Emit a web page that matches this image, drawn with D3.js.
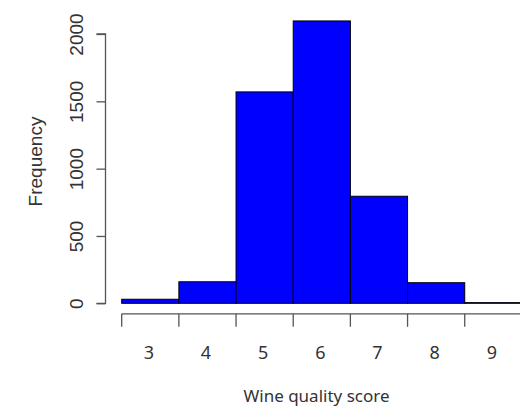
<!DOCTYPE html>
<html>
<head>
<meta charset="utf-8">
<script src="https://cdn.jsdelivr.net/npm/d3@7"></script>
<style>
  html, body { margin: 0; padding: 0; background: #fff; }
  svg { display: block; }
</style>
</head>
<body>
<svg id="chart" width="520" height="408"></svg>
<script>
// Data
const categories = [3, 4, 5, 6, 7, 8, 9];
const frequencies = [30, 160, 1570, 2097, 795, 153, 5];
const yTicks = [0, 500, 1000, 1500, 2000];
const xLabel = "Wine quality score";
const yLabel = "Frequency";

const svg = d3.select("#chart");

const x = d3.scaleLinear().domain([2.5, 9.5]).range([121.7, 521.9]);
const y = d3.scaleLinear().domain([0, 2000]).range([303.3, 34]);

const axisColor = "#555";
const textColor = "#333";

// Bars
svg.append("g").selectAll("rect")
  .data(categories)
  .join("rect")
  .attr("x", d => x(d - 0.5))
  .attr("width", d => x(d + 0.5) - x(d - 0.5))
  .attr("y", (d, i) => y(frequencies[i]))
  .attr("height", (d, i) => y(0) - y(frequencies[i]))
  .attr("fill", "#0000ff")
  .attr("stroke", "#000")
  .attr("stroke-width", 1);

// Y axis
const yAxis = d3.axisLeft(y).tickValues(yTicks).tickSize(9).tickFormat(d3.format("d"));
const gy = svg.append("g").attr("transform", "translate(105.5,0)").call(yAxis);
gy.select(".domain").attr("stroke", axisColor).attr("stroke-width", 1.3)
  .attr("d", `M-9,${y(2000)}H0V${y(0)}H-9`);
gy.selectAll(".tick line").attr("stroke", axisColor).attr("stroke-width", 1.3);
gy.selectAll(".tick text")
  .attr("fill", textColor)
  .attr("font-family", "'Liberation Sans', Arial, sans-serif")
  .attr("font-size", 19)
  .attr("x", 0)
  .attr("y", 0)
  .attr("dy", 0)
  .attr("text-anchor", "middle")
  .attr("transform", "translate(-22.8,0) rotate(-90)");

// X axis: ticks at bin edges, labels at bin centers
const edges = categories.map(c => c - 0.5).concat([9.5]);
const gx = svg.append("g").attr("transform", "translate(0,313.8)");
gx.append("line")
  .attr("x1", x(2.5)).attr("x2", x(9.5) + 20)
  .attr("y1", 0).attr("y2", 0)
  .attr("stroke", axisColor).attr("stroke-width", 1.3);
gx.selectAll("line.tk")
  .data(edges)
  .join("line")
  .attr("class", "tk")
  .attr("x1", d => x(d)).attr("x2", d => x(d))
  .attr("y1", 0).attr("y2", 13)
  .attr("stroke", axisColor).attr("stroke-width", 1.3);
gx.selectAll("text")
  .data(categories)
  .join("text")
  .attr("x", d => x(d) - 1.5)
  .attr("y", 45.5)
  .attr("text-anchor", "middle")
  .attr("fill", textColor)
  .attr("font-family", "'Noto Sans', 'Open Sans', sans-serif")
  .attr("font-size", 18)
  .text(d => d);

// Axis titles
svg.append("text")
  .attr("x", 316.5)
  .attr("y", 402)
  .attr("text-anchor", "middle")
  .attr("fill", textColor)
  .attr("font-family", "'Noto Sans', 'Open Sans', sans-serif")
  .attr("font-size", 17)
  .text(xLabel);

svg.append("text")
  .attr("transform", "translate(42,161.5) rotate(-90)")
  .attr("text-anchor", "middle")
  .attr("fill", textColor)
  .attr("font-family", "'Liberation Sans', Arial, sans-serif")
  .attr("font-size", 19)
  .text(yLabel);
</script>
</body>
</html>
